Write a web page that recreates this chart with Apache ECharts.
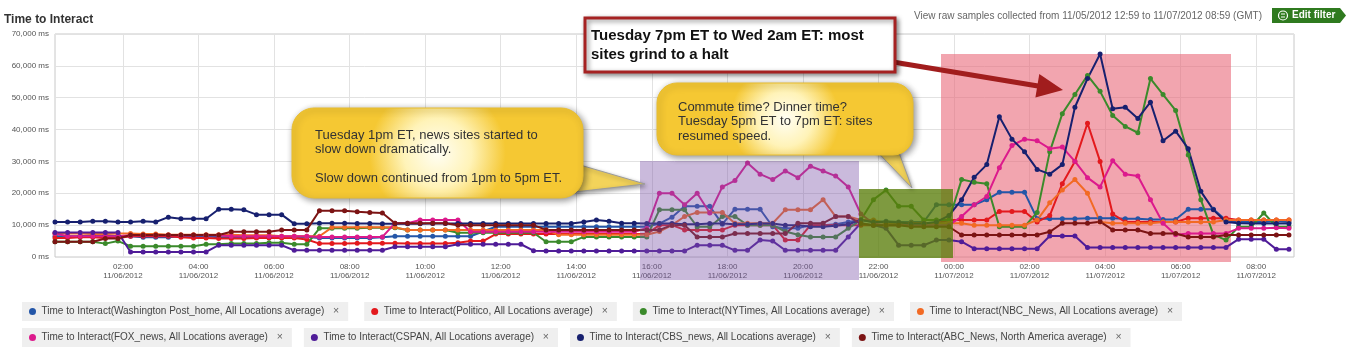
<!DOCTYPE html>
<html>
<head>
<meta charset="utf-8">
<title>Time to Interact</title>
<script src="https://cdn.jsdelivr.net/npm/echarts@6.0.0/dist/echarts.min.js"></script>
<style>
html, body { margin: 0; padding: 0; background: #fff; }
#chart { width: 1347px; height: 354px; }
</style>
</head>
<body>
<div id="chart"></div>
<script>
// sample times: hours since 11/06/2012 00:00, one sample every 20 minutes
var sampleHours = [];
for (var i = 0; i < 99; i++) sampleHours.push(0.2 + i / 3);

// x tick positions (hours) -> "HH:00 / date" labels
var tickHours = [2, 4, 6, 8, 10, 12, 14, 16, 18, 20, 22, 24, 26, 28, 30, 32];

var seriesNames = [
	'Time to Interact(Washington Post_home, All Locations average)',
	'Time to Interact(Politico, All Locations average)',
	'Time to Interact(NYTimes, All Locations average)',
	'Time to Interact(NBC_News, All Locations average)',
	'Time to Interact(FOX_news, All Locations average)',
	'Time to Interact(CSPAN, All Locations average)',
	'Time to Interact(CBS_news, All Locations average)',
	'Time to Interact(ABC_News, North America average)'
];
var colors = ['#2456a8', '#e3191d', '#3b8a2b', '#f26a24', '#dc1a8c', '#4f1c98', '#17206f', '#7c1414'];

// values in seconds (x1000 = ms)
var wapo = [6.5,6.5,6.5,6.8,6.8,6.5,6.5,6.2,6.2,6.2,6.5,6.5,6.5,6.2,
	6.2,6.2,6.2,6.2,6.3,6.3,6.3, 6,6,6,6,6,6.2, 6.5,6.5,6.5,6.5,6.5,
	6.5,6.5,8,9.5,9.5,9.5,9.5,9.5,9.5,9.5,9.5,9.5,9.5,9.5,9.5,9.5,
	10.5,12.5,15.9,15.9,15.9,10.3,15,15,15,9.5,9,9,10,10,10.3,11,11.6,11,11.2,11,
	11,11,16.4,16.4,16.4,16.4,18,20.3,20.3,20.3,12,
	12,12,12,12.2,12.2,12.2,12,12,11.8,11.8,11.8,
	15,15,15,11.5,11,11,11,11.2,11];
var politico = [6,6,6.2,6.2,6,6,6.5,6.5,6.5,6.5,6.2,6,6,5.8,5.8,5.8,6,6,6,6,5.5,
	4.2,4.2,4.2,4.3,4.3,4.3,4.3,4.2,4.2,4.2,4.2,
	4.5,5,5,7.2,7.2,7.2,7.2,7.2,7.2,7.2,7.2,7.2,7.2,7.2,7.2,7.2,
	10,10,8.5,8.5,8.5,8.5,10,10,10,10,5.3,5.3,10,10,10,10,10,10,10,10,
	10.6,10.6,10.6,11.6,11.6,11.6,11.6,14.3,14.3,14.3,11,
	13,23,30,42,30,
	13.5,11,11,11,11,11,12.2,12.2,12.2,12.2,11.6,11.6,11.6,11.6,11.6];
var nytimes = [4.8,4.8,4.8,4.8,4.2,5,3.4,3.4,3.4,3.4,3.4,3.4,
	4,4,4.2,4.2,4.2,4.5,4.5,4,4,
	9,9,9,9,9.2,9.2,9.2,8.5,8.5,8.5,8.5,
	7.6,7.6,7.6,7.6,7.6,7.6,7.6,4.8,4.8,4.8,6.3,6.3,6.3,6.3,6.3,6.3,
	14.8,14.8,14.8,9.5,9.5,12.7,12.7,10,10,10,8,7,6.3,6.3,6.3,9,11.6,18,21,15.9,
	15.9,11.6,11.6,11.6,24.3,23.5,23,9.5,9.5,9.5,14,
	33,45,51,57,52,44.4,41,39,56,51,46,32,18,7,5.3,9.5,9.5,13.8,9.5,9.5];
var nbc = [7.4,7.4,7.4,7.2,7.2,7.4,7.4,7.2,7.2,
	7,7,7,7,7,7,6.8,6.8,6.8,
	6.5,6.5,6.5,6.5,
	9.3,9.3,9.3,9.3,9.3,9.3,
	8.5,8.5,8.5,8.5,
	8.5,8.5,8.5,8.5,8.5,8.5,8.5,8.5,
	7,7,7,7,7,7,7,7,
	8,10,12.7,14,14,14,10.6,10.6,10.6,10.6,14.8,14.8,14.8,18,12.7,12.7,11.6,11.6,10.6,10.6,
	10.6,10.6,10.6,10.6,10.6,10,10,10,10,10,11.6,
	17,21,24.3,20,11,
	10.6,10.6,10.6,10.6,11,11,11,11,11,11.6,11.6,11.6,11.6,11.6,11.6];
var fox = [7.4,6.5,6.5,6.5,6.5,6.5,6.8,6.8,6.8,6.8,6.8,6.8,6.8,6.8,
	6.5,6.5,6.5,6.5,6.5,6.5,6.5,6.3,6.3,6.3,6.3,6.3,6.3,
	10.6,10.6,11.6,11.6,11.6,
	11.6,7.9,7.9,7.9,7.9,7.9,7.9,7.9,7.9,7.9,7.9,7.9,7.9,7.9,7.9,9,
	20,20,16.4,20,13.8,22,24,29.5,26,24.3,27,24.9,28.5,27,25.4,22,13.5,10.5,10,10,
	10,10,10,10,12.7,16.4,19,28,35,37,36.5,
	34,34.5,30,24.9,22,30.2,26,25.4,18,10.6,
	7,7.4,7.4,7.4,7.4,9,9,9,9.2,9];
var cspan = [7.7,7.7,7.7,7.7,7.7,7.7,
	1.6,1.6,1.6,1.6,1.6,1.6,1.6,
	3.7,3.7,3.7,3.7,3.7,3.7,
	2.1,2.1,2.1,2.1,2.1,2.1,2.1,2.1,
	3.2,3.2,3.2,3.2,3.2,
	4,4,4,4,4,4,
	2,1.9,1.9,1.9,1.9,1.9,1.9,1.9,1.9,1.9,1.9,1.9,1.9,
	3.7,3.7,3.7,2.1,2.1,5.3,5,2.1,2.1,2.1,2.1,2.1,6.3,10.6,10,9,3.7,
	3.7,3.7,5.3,5.3,4.8,2.6,2.6,2.6,2.6,2.6,2.6,6.6,6.6,6.6,
	3,3,3,3,3,3,3,3,3,3,3,3,5.6,5.6,5.6,2.4,2.4];
var cbs = [11,11,11,11.2,11.2,11,11,11.2,11,
	12.5,12,12,12,15,15,14.8,13.3,13.3,13.3,
	10.4,10.4,10.6,10.6,10.6,10.5,10.5,10.4,10.4,10.4,10.4,10.5,10.5,
	10.5,10.5,10.5,10.5,10.5,10.5,10.5,10.5,10.5,10.5,11,11.6,11.2,10.6,10.6,10.5,
	10.5,10.5,10.3,10.3,10.5,10.5,10.3,10.3,10.5,10.5,10,10,9.5,9.5,9.8,10.3,11.6,11,11,10.8,
	10.5,10.5,11,13,18,25,29,44,37,33,27.5,
	26,29,47,56,63.7,46.5,47,43.5,48.6,36.5,
	39.5,34,20.6,14.8,11,10.6,10.5,10.5,10.5,10.5];
var abc = [4.8,4.8,4.8,4.8,5.8,5.8,
	6.9,6.9,6.9,6.9,6.9,6.9,6.9,6.9,
	7.9,7.9,7.9,7.9,8.5,8.5,8.5,
	14.5,14.5,14.5,14.2,14,13.8,
	10.6,10.6,10.6,10.6,10.6,
	10,10,10,10,10,10,10,
	8.5,8.5,8.5,8.5,8.5,8.5,8.5,8.5,8.5,8.5,
	10,10,6.3,6.3,6.3,7.4,7.4,7.4,7.4,7.4,10.6,10.6,10.6,12.7,12.7,10.5,10,10,10,
	9.5,9.5,9.5,9.5,6.9,6.9,6.9,6.9,6.9,6.9,6.9,
	7.9,10.6,10.6,10.6,11.1,8.5,8.5,8.5,7.4,7.4,7.4,6.3,6.3,6.3,
	6.9,6.9,6.9,6.9,6.9,6.9];

var seriesValues = [wapo, politico, nytimes, nbc, fox, cspan, cbs, abc];

var FONT = '"Liberation Sans", Arial, Helvetica, sans-serif';

function pad(n) { return (n < 10 ? '0' : '') + n; }

function toPoints(vals) {
	return vals.map(function (v, i) { return [sampleHours[i], v * 1000]; });
}

var legendRich = { x: { fontSize: 10.5, color: '#666', padding: [0, 0, 0, 6] } };
colors.forEach(function (c, i) {
	legendRich['d' + i] = { width: 7, height: 7, borderRadius: 4, backgroundColor: c };
});

function legendRow(names, top, gap) {
	return {
		data: names,
		left: 17,
		top: top,
		padding: 0,
		itemGap: gap,
		itemWidth: 0,
		itemHeight: 0,
		icon: 'circle',
		formatter: function (name) {
			return '{d' + seriesNames.indexOf(name) + '|}  ' + name + ' {x|×}';
		},
		textStyle: {
			fontFamily: FONT,
			fontSize: 10,
			color: '#444',
			backgroundColor: '#efefef',
			padding: [4, 9, 4, 7],
			rich: legendRich
		}
	};
}

var yellowFill = new echarts.graphic.RadialGradient(0.5, 0.5, 0.75, [
	{ offset: 0, color: '#fffef4' },
	{ offset: 0.5, color: '#fff3b8' },
	{ offset: 1, color: '#f5c833' }
]);

function bubble(box, tail, lines, tx, ty) {
	return [
		{ type: 'polygon', z: 20, shape: { points: tail },
			style: { fill: '#f3d35a', stroke: '#9a9a9a', lineWidth: 1, shadowBlur: 4, shadowColor: 'rgba(0,0,0,0.4)', shadowOffsetX: 1, shadowOffsetY: 2 } },
		{ type: 'rect', z: 21, shape: box,
			style: { fill: yellowFill, stroke: '#e8bd2e', lineWidth: 1, shadowBlur: 7, shadowColor: 'rgba(0,0,0,0.45)', shadowOffsetX: 2, shadowOffsetY: 2 } },
		{ type: 'text', z: 22, x: tx, y: ty,
			style: { text: lines.join('\n'), font: '13px ' + FONT, fill: '#333', lineHeight: 14.5, textVerticalAlign: 'top' } }
	];
}

var graphics = [
	// highlighted periods (pink below the lines, purple and green over them)
	{ type: 'rect', z: 1, shape: { x: 941, y: 54, width: 290, height: 208 }, style: { fill: 'rgba(232,100,118,0.58)' } },
	{ type: 'rect', z: 10, shape: { x: 640, y: 161, width: 219, height: 119 }, style: { fill: 'rgba(122,82,168,0.4)' } },
	{ type: 'rect', z: 11, shape: { x: 859, y: 189, width: 94, height: 69 }, style: { fill: 'rgba(90,125,10,0.78)' } },

	// red headline box + arrow
	{ type: 'line', z: 23, shape: { x1: 893, y1: 62, x2: 1038, y2: 86 }, style: { stroke: '#a11d1d', lineWidth: 5 } },
	{ type: 'polygon', z: 23, shape: { points: [[1063, 90], [1035.4, 97.6], [1039.3, 74]] }, style: { fill: '#a11d1d' } },
	{ type: 'rect', z: 24, shape: { x: 585, y: 18, width: 310, height: 54 },
		style: { fill: '#fff', stroke: '#a52222', lineWidth: 3, shadowBlur: 5, shadowColor: 'rgba(0,0,0,0.45)', shadowOffsetX: 2, shadowOffsetY: 2 } },
	{ type: 'text', z: 25, x: 591, y: 26,
		style: { text: 'Tuesday 7pm ET to Wed 2am ET: most\nsites grind to a halt', font: 'bold 15px ' + FONT, fill: '#111', lineHeight: 19, textVerticalAlign: 'top' } },

	// header right
	{ type: 'text', z: 5, x: 1262, y: 16,
		style: { text: 'View raw samples collected from 11/05/2012 12:59 to 11/07/2012 08:59 (GMT)', font: '10px ' + FONT, fill: '#666', textAlign: 'right', textVerticalAlign: 'middle' } },
	{ type: 'polygon', z: 5, shape: { points: [[1272, 8], [1340, 8], [1346, 15.5], [1340, 23], [1272, 23]] }, style: { fill: '#2f7a1f' } },
	{ type: 'circle', z: 6, shape: { cx: 1283, cy: 15.5, r: 4.5 }, style: { fill: 'none', stroke: '#fff', lineWidth: 1.2 } },
	{ type: 'line', z: 6, shape: { x1: 1281, y1: 14, x2: 1285, y2: 14 }, style: { stroke: '#fff', lineWidth: 1 } },
	{ type: 'line', z: 6, shape: { x1: 1281, y1: 17, x2: 1285, y2: 17 }, style: { stroke: '#fff', lineWidth: 1 } },
	{ type: 'text', z: 6, x: 1292, y: 15.5,
		style: { text: 'Edit filter', font: 'bold 10px ' + FONT, fill: '#fff', textVerticalAlign: 'middle' } }
].concat(
	bubble({ x: 292, y: 108, width: 291, height: 90, r: 22 }, [[556, 158], [574, 192], [645, 184]],
		['Tuesday 1pm ET, news sites started to', 'slow down dramatically.', '', 'Slow down continued from 1pm to 5pm ET.'], 315, 128),
	bubble({ x: 657, y: 83, width: 256, height: 72, r: 20 }, [[866, 140], [898, 150], [912, 188]],
		['Commute time? Dinner time?', 'Tuesday 5pm ET to 7pm ET: sites', 'resumed speed.'], 678, 100)
);

var chart = echarts.init(document.getElementById('chart'), null, { renderer: 'canvas' });

chart.setOption({
	animation: false,
	color: colors,
	textStyle: { fontFamily: FONT },
	title: {
		text: 'Time to Interact',
		left: 4,
		top: 14,
		padding: 0,
		textStyle: { fontSize: 12, fontWeight: 'bold', color: '#333', fontFamily: FONT }
	},
	legend: [
		legendRow(seriesNames.slice(0, 4), 302, 11),
		legendRow(seriesNames.slice(4), 328, 7)
	],
	grid: {
		left: 55,
		right: 53,
		top: 34,
		bottom: 97,
		show: true,
		borderColor: '#c8c8c8',
		borderWidth: 1
	},
	xAxis: {
		type: 'value',
		min: 0.2,
		max: 33,
		axisLine: { show: false },
		axisTick: { show: false, customValues: tickHours },
		splitLine: { show: true, lineStyle: { color: '#e2e2e2' } },
		axisLabel: {
			customValues: tickHours,
			fontSize: 8,
			lineHeight: 9,
			color: '#555',
			margin: 5,
			formatter: function (v) {
				var h = v % 24;
				return pad(h) + ':00\n' + (v < 24 ? '11/06/2012' : '11/07/2012');
			}
		}
	},
	yAxis: {
		type: 'value',
		min: 0,
		max: 70000,
		interval: 10000,
		axisLine: { show: false },
		axisTick: { show: false },
		splitLine: { lineStyle: { color: '#e2e2e2' } },
		axisLabel: { formatter: '{value} ms', fontSize: 8, color: '#555', margin: 6 }
	},
	series: seriesNames.map(function (name, i) {
		return {
			name: name,
			type: 'line',
			data: toPoints(seriesValues[i]),
			symbol: 'circle',
			symbolSize: 5,
			showSymbol: true,
			lineStyle: { width: 2 },
			itemStyle: { color: colors[i] }
		};
	}),
	graphic: graphics
});
</script>
</body>
</html>
